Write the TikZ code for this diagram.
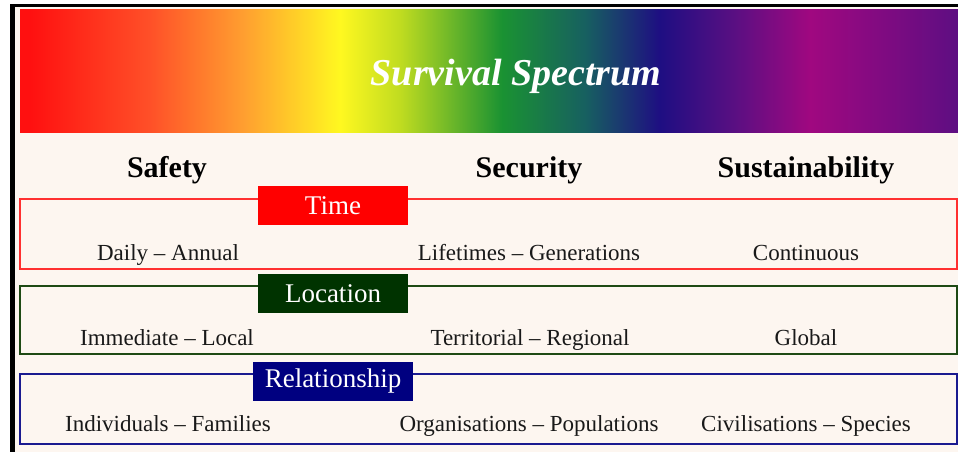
\documentclass[tikz,border=0pt]{standalone}
\usepackage{xcolor}
\usepackage{fontspec}
\setmainfont{Liberation Serif}
\usepackage{tikz}

\definecolor{cream}{HTML}{FDF6F0}
\definecolor{sp1}{HTML}{FF1010}
\definecolor{sp2}{HTML}{FF5028}
\definecolor{sp3}{HTML}{FFA030}
\definecolor{sp4}{HTML}{FFF820}
\definecolor{sp5}{HTML}{C0DC20}
\definecolor{sp6}{HTML}{1A9232}
\definecolor{sp7}{HTML}{176060}
\definecolor{sp8}{HTML}{1E0E82}
\definecolor{sp9}{HTML}{5A0F82}
\definecolor{sp10}{HTML}{A00880}
\definecolor{sp11}{HTML}{5E0E82}
\definecolor{timered}{HTML}{FF0000}
\definecolor{timeline}{HTML}{FF3030}
\definecolor{locgreen}{HTML}{003300}
\definecolor{locline}{HTML}{1E4A14}
\definecolor{relblue}{HTML}{000080}
\definecolor{relline}{HTML}{1A1A90}

\begin{document}
\begin{tikzpicture}[x=1pt,y=-1pt,
  heading/.style={font=\fontsize{30}{34}\selectfont\bfseries,anchor=base},
  entry/.style={font=\fontsize{23}{26}\selectfont,anchor=base,text=black!90},
  tag/.style={font=\fontsize{27}{30}\selectfont,text=white,inner sep=0pt,minimum height=39pt}]
\useasboundingbox [fill=white] (0,0) rectangle (958,452);
% frame and background
\fill [cream] (15,7) rectangle (958,452);
\fill [black] (10,4) rectangle (958,7);
\fill [black] (10,4) rectangle (15,452);
% spectrum banner
\shade [left color=sp1,right color=sp1] (20,10) rectangle (30,132);
\shade [left color=sp1,right color=sp2] (30,10) rectangle (150,132);
\shade [left color=sp2,right color=sp3] (150,10) rectangle (245,132);
\shade [left color=sp3,right color=sp4] (245,10) rectangle (340,132);
\shade [left color=sp4,right color=sp5] (340,10) rectangle (400,132);
\shade [left color=sp5,right color=sp6] (400,10) rectangle (502,132);
\shade [left color=sp6,right color=sp7] (502,10) rectangle (585,132);
\shade [left color=sp7,right color=sp8] (585,10) rectangle (660,132);
\shade [left color=sp8,right color=sp9] (660,10) rectangle (735,132);
\shade [left color=sp9,right color=sp10] (735,10) rectangle (810,132);
\shade [left color=sp10,right color=sp11] (810,10) rectangle (958,132);
\node (title) [anchor=base,text=white,font=\fontsize{38}{42}\selectfont\bfseries\itshape] at (516,85) {Survival Spectrum};
% column headings
\node (safety) [heading] at (167,177) {Safety};
\node (security) [heading] at (529,177) {Security};
\node (sustain) [heading] at (806,177) {Sustainability};
% time row
\draw [timeline,line width=1.2pt] (20,199) rectangle (957,269);
\node (time) [tag,fill=timered,minimum width=150pt] at (333,205.5) {Time};
\node (daily) [entry] at (168,260) {Daily -- Annual};
\node (lifetimes) [entry] at (529,260) {Lifetimes -- Generations};
\node (continuous) [entry] at (806,260) {Continuous};
% location row
\draw [locline,line width=1.2pt] (20,286) rectangle (957,354);
\node (location) [tag,fill=locgreen,minimum width=150pt] at (333,293.5) {Location};
\node (immediate) [entry] at (167,345) {Immediate -- Local};
\node (territorial) [entry] at (530,345) {Territorial -- Regional};
\node (global) [entry] at (806,345) {Global};
% relationship row
\draw [relline,line width=1.2pt] (20,374) rectangle (957,444);
\node (relation) [tag,fill=relblue,minimum width=160pt] at (333,381.5) {Relationship};
\node (individuals) [entry] at (168,431) {Individuals -- Families};
\node (organisations) [entry] at (529,431) {Organisations -- Populations};
\node (civilisations) [entry] at (806,431) {Civilisations -- Species};
\end{tikzpicture}
\end{document}
